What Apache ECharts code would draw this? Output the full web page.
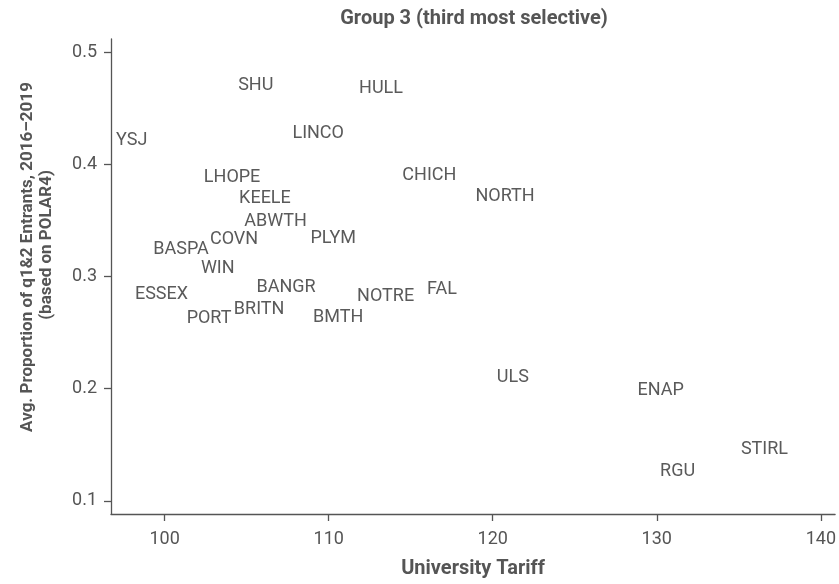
<!DOCTYPE html>
<html>
<head>
<meta charset="utf-8">
<script src="https://cdn.jsdelivr.net/npm/echarts@6/dist/echarts.min.js"></script>
<style>
html,body{margin:0;padding:0;background:#fff;}
#chart{width:839px;height:584px;}
</style>
</head>
<body>
<div id="chart"></div>
<script>
// University codes (label text)
var names = ['SHU','HULL','YSJ','LINCO','LHOPE','KEELE','ABWTH','COVN','PLYM','BASPA','WIN','BANGR','ESSEX','NOTRE','CHICH','NORTH','FAL','PORT','BRITN','BMTH','ULS','ENAP','STIRL','RGU'];
// University Tariff (x)
var tariff = [104.48,111.85,97.04,107.79,102.39,104.54,104.85,102.76,108.89,99.31,102.21,105.60,98.19,111.73,114.49,118.95,115.99,101.34,104.22,109.05,120.25,128.83,135.13,130.20];
// Avg. proportion of q1&2 entrants (y)
var proportion = [0.4659,0.4627,0.4167,0.4227,0.3836,0.3652,0.3444,0.3287,0.3296,0.3198,0.3029,0.2858,0.2798,0.2774,0.3856,0.3672,0.2843,0.2585,0.2665,0.2591,0.2052,0.1939,0.1412,0.1222];
// Tick values
var xTicks = [100,110,120,130,140];
var yTicks = [0.1,0.2,0.3,0.4,0.5];

var FONT = 'Roboto';
var GRAY = '#555555';
var LABEL_SIZE = 18;

var chart = echarts.init(document.getElementById('chart'), null, {renderer:'canvas'});
var data = names.map(function(n,i){ return [tariff[i], proportion[i]]; });

chart.setOption({
  animation:false,
  backgroundColor:'#ffffff',
  title:{
    text:'Group 3 (third most selective)',
    left:469, top:4, textAlign:'center',
    textStyle:{fontFamily:FONT, fontWeight:'bold', fontSize:20, color:GRAY}
  },
  grid:{left:111, right:3, top:39, bottom:69, containLabel:false},
  xAxis:{
    type:'value', min:96.73, max:140.87,
    name:'University Tariff', nameLocation:'middle', nameGap:45,
    nameTextStyle:{fontFamily:FONT, fontWeight:'bold', fontSize:20, color:GRAY},
    axisLine:{show:true, lineStyle:{color:GRAY, width:1.3}},
    axisTick:{show:true, length:7, customValues:xTicks, lineStyle:{color:GRAY, width:1.3}},
    axisLabel:{customValues:xTicks, margin:16, fontFamily:FONT, fontSize:18, color:GRAY},
    splitLine:{show:false}
  },
  yAxis:{
    type:'value', min:0.0884, max:0.5116,
    axisLine:{show:true, lineStyle:{color:GRAY, width:1.3}},
    axisTick:{show:true, length:7, customValues:yTicks, lineStyle:{color:GRAY, width:1.3}},
    axisLabel:{customValues:yTicks, margin:14, fontFamily:FONT, fontSize:18, color:GRAY,
      formatter:function(v){ return v.toFixed(1); }},
    splitLine:{show:false}
  },
  graphic:[
    {type:'text', x:28, y:257, rotation:Math.PI/2,
      style:{text:'Avg. Proportion of q1&2 Entrants, 2016–2019', align:'center', verticalAlign:'middle',
        font:'bold 17px ' + FONT, fill:GRAY}},
    {type:'text', x:47, y:245, rotation:Math.PI/2,
      style:{text:'(based on POLAR4)', align:'center', verticalAlign:'middle',
        font:'bold 17px ' + FONT, fill:GRAY}}
  ],
  series:[{
    type:'custom',
    data:data,
    renderItem:function(params, api){
      var p = api.coord([api.value(0), api.value(1)]);
      return {
        type:'text',
        x:p[0], y:p[1] + LABEL_SIZE*0.22,
        style:{text:names[params.dataIndex], align:'left', verticalAlign:'bottom',
          font:LABEL_SIZE + 'px ' + FONT, fill:'#5a5a5a'}
      };
    }
  }]
});
</script>
</body>
</html>
